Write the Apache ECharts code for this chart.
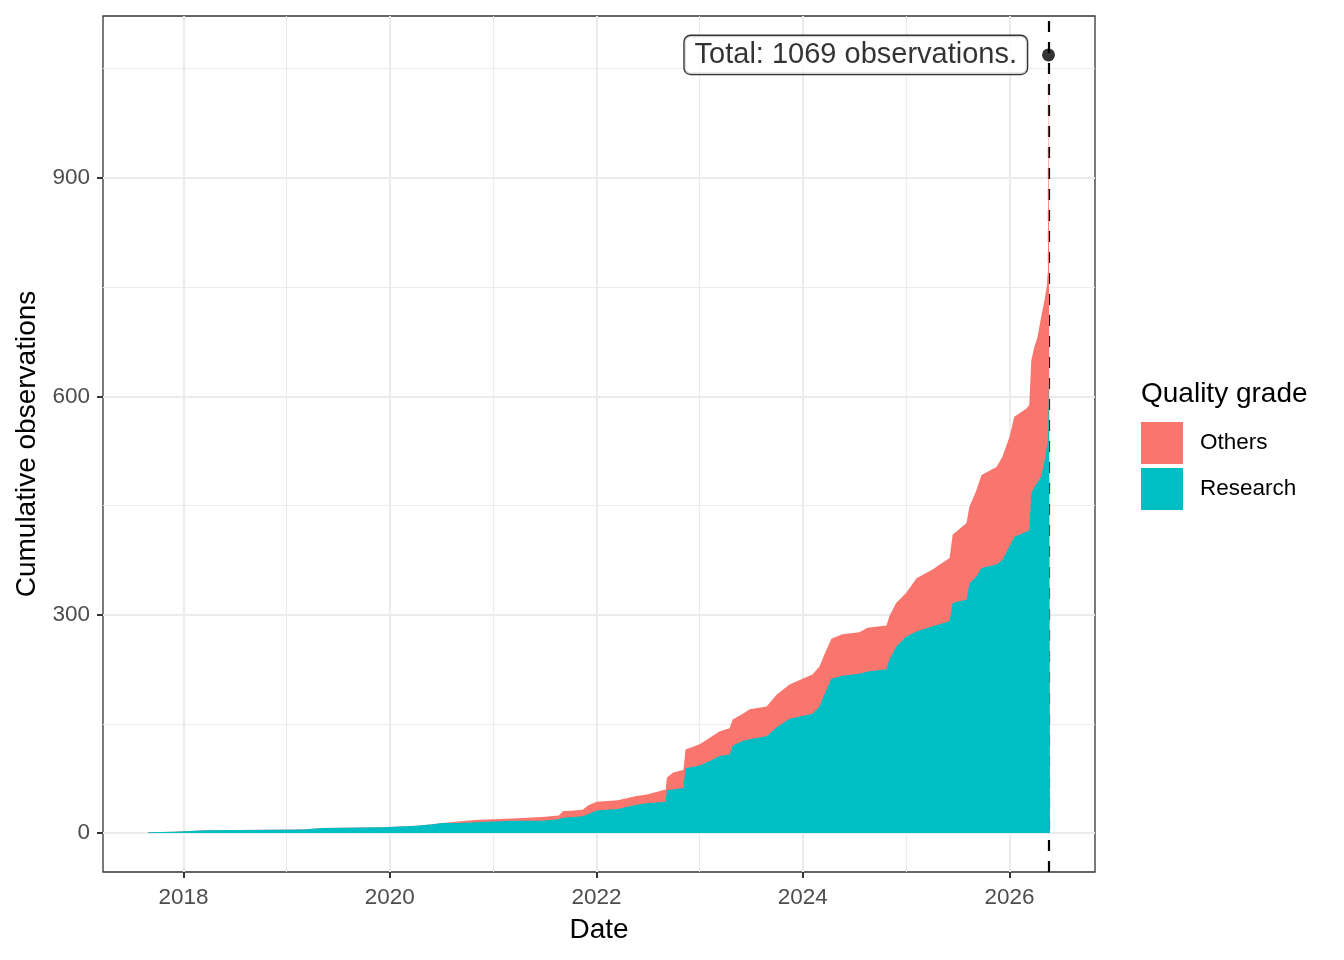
<!DOCTYPE html>
<html>
<head>
<meta charset="utf-8">
<title>Cumulative observations</title>
<script src="https://cdn.jsdelivr.net/npm/echarts@6/dist/echarts.min.js"></script>
<style>
  html, body { margin: 0; padding: 0; background: #fff; }
  #main { width: 1344px; height: 960px; }
</style>
</head>
<body>
<div id="main"></div>
<script>
// observation dates (cumulative counts read at these days)
var dates = [
  '2017-08-29','2017-11-29','2018-03-25','2019-03-01','2019-05-07','2019-12-08','2020-04-07','2020-05-01','2020-06-02','2020-07-03',
  '2020-08-04','2020-08-29','2020-10-28','2020-12-31','2021-03-08','2021-06-22','2021-08-21','2021-09-04','2021-10-13','2021-11-13',
  '2021-12-02','2022-01-02','2022-03-17','2022-05-23','2022-06-28','2022-09-03','2022-09-07','2022-09-28','2022-11-05','2022-11-12',
  '2023-01-01','2023-02-06','2023-03-13','2023-04-17','2023-04-28','2023-05-30','2023-06-27','2023-08-26','2023-09-30','2023-11-15',
  '2023-12-31','2024-02-04','2024-02-29','2024-03-17','2024-04-11','2024-05-20','2024-07-19','2024-08-17','2024-10-23','2024-11-02',
  '2024-11-26','2025-01-01','2025-02-06','2025-04-04','2025-06-03','2025-06-14','2025-08-02','2025-08-12','2025-09-06','2025-09-24',
  '2025-11-16','2025-12-07','2026-01-01','2026-01-18','2026-03-01','2026-03-12','2026-03-19','2026-03-30','2026-04-10','2026-04-23',
  '2026-05-05','2026-05-13','2026-05-17','2026-05-20','2026-05-24'
];
// cumulative "Research" grade observations
var research = [
  1, 2, 4, 5, 7, 8, 10, 11, 12, 14,
  14, 14, 15, 16, 17, 17, 19, 21, 22, 23,
  26, 31, 33, 39, 41, 43, 59, 60, 62, 89,
  93, 99, 106, 108, 120, 126, 129, 133, 145, 157,
  161, 164, 174, 190, 212, 216, 219, 222, 225, 238,
  256, 270, 277, 284, 291, 316, 321, 343, 352, 364,
  369, 375, 394, 407, 414, 416, 467, 475, 482, 490,
  510, 530, 540, 629, 629
];
// cumulative "Others" observations
var others = [
  0, 0, 0, 0, 0, 0, 0, 0, 0, 0,
  1, 2, 3, 3, 3, 5, 5, 9, 9, 9,
  12, 12, 12, 12, 12, 17, 17, 23, 25, 26,
  29, 32, 34, 36, 36, 37, 41, 41, 45, 47,
  51, 54, 55, 55, 55, 57, 57, 60, 60, 60,
  60, 60, 73, 78, 87, 94, 105, 105, 119, 128,
  134, 142, 150, 165, 169, 172, 182, 193, 199, 219,
  222, 222, 230, 440, 440
];
// date of the total marker / dashed line
var markDate = '2026-05-19';
// axis breaks
var xMajorYears = [2018, 2020, 2022, 2024, 2026];
var xMinorYears = [2019, 2021, 2023, 2025];
var yMajor = [0, 300, 600, 900];
var yMinor = [150, 450, 750, 1050];

var FONT = 'Liberation Sans';
var last = dates.length - 1;
var total = research[last] + others[last];

function ts(d) { return +echarts.time.parse(d); }
function yearTs(y) { return new Date(y, 0, 1).getTime(); }

var times = dates.map(ts);
// top of the stack (research + others), the pink band sits under the teal one
var stackTop = research.map(function (r, i) { return r + others[i]; });

// ggplot style 5% expansion on both axes
var t0 = times[0];
var t1 = times[last];
var xMin = t0 - 0.05 * (t1 - t0);
var xMax = t1 + 0.05 * (t1 - t0);
var yMin = -0.05 * total;
var yMax = total * 1.05;

var chart = echarts.init(document.getElementById('main'));
chart.setOption({
  animation: false,
  backgroundColor: '#fff',
  textStyle: { fontFamily: FONT },
  title: {
    text: 'Quality grade',
    left: 1141,
    top: 380,
    padding: 0,
    textStyle: { fontFamily: FONT, fontSize: 28, fontWeight: 'normal', color: '#000' }
  },
  legend: {
    data: ['Others', 'Research'],
    orient: 'vertical',
    left: 1141,
    top: 422,
    padding: 0,
    icon: 'rect',
    itemWidth: 42,
    itemHeight: 42,
    itemGap: 4,
    selectedMode: false,
    textStyle: { fontFamily: FONT, fontSize: 22.5, color: '#000', padding: [0, 0, 0, 12] }
  },
  grid: {
    left: 103, right: 249, top: 16, bottom: 88,
    outerBoundsMode: 'none',
    containLabel: false,
    show: true, backgroundColor: '#fff', borderColor: '#333', borderWidth: 1.3
  },
  xAxis: {
    type: 'value',
    min: xMin,
    max: xMax,
    name: 'Date',
    nameLocation: 'middle',
    nameGap: 44,
    nameTextStyle: { fontFamily: FONT, fontSize: 28, color: '#000' },
    axisLine: { show: false, onZero: false },
    axisTick: { show: true, length: 6, customValues: xMajorYears.map(yearTs), lineStyle: { color: '#333', width: 2 } },
    axisLabel: {
      customValues: xMajorYears.map(yearTs),
      margin: 14,
      fontFamily: FONT, fontSize: 22.5, color: '#4D4D4D',
      formatter: function (v) { return String(new Date(v).getFullYear()); }
    },
    splitLine: { show: true, lineStyle: { color: '#EBEBEB', width: 2.1 } }
  },
  yAxis: {
    type: 'value',
    min: yMin,
    max: yMax,
    name: 'Cumulative observations',
    nameLocation: 'middle',
    nameGap: 62,
    nameTextStyle: { fontFamily: FONT, fontSize: 28, color: '#000' },
    axisLine: { show: false, onZero: false },
    axisTick: { show: true, length: 6, customValues: yMajor, lineStyle: { color: '#333', width: 2 } },
    axisLabel: { customValues: yMajor, margin: 13, fontFamily: FONT, fontSize: 22.5, color: '#4D4D4D' },
    splitLine: { show: true, lineStyle: { color: '#EBEBEB', width: 2.1 } }
  },
  series: [
    {
      // minor gridlines, kept under the areas
      name: 'minor',
      type: 'line',
      data: [],
      z: 1,
      silent: true,
      markLine: {
        z: 1,
        silent: true,
        symbol: 'none',
        label: { show: false },
        lineStyle: { color: '#EBEBEB', width: 1.1, type: 'solid' },
        data: xMinorYears.map(function (y) { return { xAxis: yearTs(y) }; })
          .concat(yMinor.map(function (v) { return { yAxis: v }; }))
      }
    },
    {
      name: 'Others',
      type: 'line',
      z: 2,
      showSymbol: false,
      symbol: 'none',
      lineStyle: { width: 0, color: '#F8766D' },
      itemStyle: { color: '#F8766D' },
      areaStyle: { color: '#F8766D', opacity: 1 },
      data: times.map(function (t, i) { return [t, stackTop[i]]; })
    },
    {
      name: 'Research',
      type: 'line',
      z: 3,
      showSymbol: false,
      symbol: 'none',
      lineStyle: { width: 0, color: '#00BFC4' },
      itemStyle: { color: '#00BFC4' },
      areaStyle: { color: '#00BFC4', opacity: 1 },
      data: times.map(function (t, i) { return [t, research[i]]; })
    },
    {
      // total marker, dashed line (under the areas) and label
      name: 'total',
      type: 'scatter',
      z: 5,
      symbolSize: 13,
      itemStyle: { color: '#000' },
      data: [[ts(markDate), total]],
      label: {
        show: true,
        position: 'left',
        distance: 15,
        formatter: 'Total: ' + total + ' observations.',
        fontFamily: FONT,
        fontSize: 29,
        lineHeight: 30,
        color: '#000',
        backgroundColor: '#fff',
        borderColor: '#000',
        borderWidth: 1.3,
        borderRadius: 6,
        padding: [4, 10, 4, 10]
      },
      markLine: {
        z: 1,
        silent: true,
        symbol: 'none',
        label: { show: false },
        lineStyle: { color: '#000', width: 2.2, type: [11, 10] },
        data: [{ xAxis: ts(markDate) }]
      }
    }
  ]
});
</script>
</body>
</html>
